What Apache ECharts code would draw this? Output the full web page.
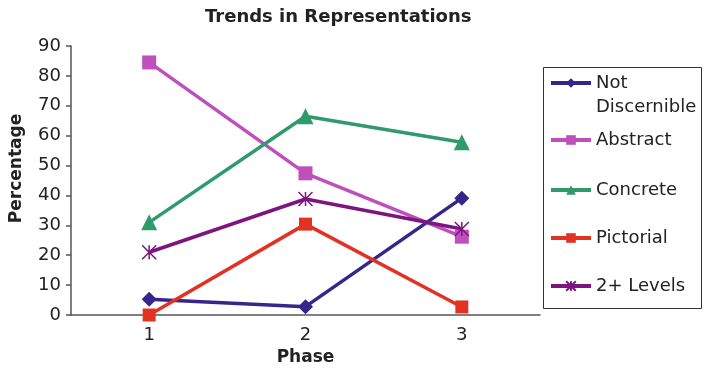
<!DOCTYPE html>
<html><head><meta charset="utf-8">
<script src="https://cdn.jsdelivr.net/npm/echarts@6/dist/echarts.min.js"></script>
<style>html,body{margin:0;padding:0;background:#fff}#c{width:703px;height:375px}</style>
</head><body><div id="c"></div>
<script>
const categories = ['1', '2', '3'];
const notDiscernible = [5.3, 2.8, 39.1];
const abstractVals = [84.5, 47.4, 26.2];
const concrete = [31, 66.5, 57.8];
const pictorial = [0, 30.4, 2.7];
const twoPlus = [21, 38.8, 28.8];
const seriesNames = ['Not Discernible', 'Abstract', 'Concrete', 'Pictorial', '2+ Levels'];
const yTicks = {min: 0, max: 90, interval: 10};

const FONT = 'DejaVu Sans';
const colors = ['#35268b', '#bf4fbb', '#2f9a6b', '#e13223', '#7c157f'];
const symbols = ['diamond', 'rect', 'triangle', 'rect', 'path://M0,0L10,10M10,0L0,10M5,0L5,10'];
const sizes = [15, 14, 16, 13, 14];
const values = [notDiscernible, abstractVals, concrete, pictorial, twoPlus];
const legendCenters = [83, 140, 190, 238, 286];

const chart = echarts.init(document.getElementById('c'));
const series = seriesNames.map((n, i) => ({
  name: n, type: 'line', data: values[i], symbol: symbols[i], symbolSize: sizes[i],
  color: colors[i],
  lineStyle: {width: 3.5, color: colors[i]},
  itemStyle: i === 4 ? {color: colors[i], borderColor: colors[i], borderWidth: 1.5} : {color: colors[i]},
  emphasis: {disabled: true}, animation: false
}));
const legends = seriesNames.map((n, i) => ({
  data: [n], orient: 'vertical', left: 549,
  top: i === 0 ? legendCenters[0] - 36 : legendCenters[i] - 12,
  padding: 0, itemWidth: 40, itemHeight: 12, itemGap: 0,
  formatter: i === 0 ? '\nNot\nDiscernible' : undefined,
  textStyle: {fontFamily: FONT, fontSize: 18, color: '#222', lineHeight: 24},
  lineStyle: {width: 4},
  selectedMode: false
}));
chart.setOption({
  animation: false,
  title: {text: 'Trends in Representations', left: 200, top: 3,
    textStyle: {fontFamily: FONT, fontSize: 18, fontWeight: 'bold', color: '#222'}},
  grid: {left: 70, right: 163, top: 46, bottom: 60},
  xAxis: {type: 'category', data: categories, boundaryGap: true,
    name: 'Phase', nameLocation: 'middle', nameGap: 33,
    nameTextStyle: {fontFamily: FONT, fontSize: 17, fontWeight: 'bold', color: '#222'},
    axisLine: {lineStyle: {color: '#555', width: 1.5}},
    axisTick: {length: 5, lineStyle: {color: '#555', width: 1.5}},
    axisLabel: {fontFamily: FONT, fontSize: 18, color: '#222', margin: 11}},
  yAxis: {type: 'value', min: yTicks.min, max: yTicks.max, interval: yTicks.interval,
    name: 'Percentage', nameLocation: 'middle', nameGap: 46,
    nameTextStyle: {fontFamily: FONT, fontSize: 17, fontWeight: 'bold', color: '#222', padding: [0, 0, 0, 24]},
    splitLine: {show: false},
    axisLine: {show: true, lineStyle: {color: '#555', width: 1.5}},
    axisTick: {show: true, length: 5, lineStyle: {color: '#555', width: 1.5}},
    axisLabel: {fontFamily: FONT, fontSize: 18, color: '#222', margin: 10}},
  legend: legends,
  graphic: [{type: 'rect', shape: {x: 543.5, y: 67.5, width: 158, height: 241},
    style: {fill: 'none', stroke: '#333', lineWidth: 1}, silent: true}],
  series: series
});
</script></body></html>
